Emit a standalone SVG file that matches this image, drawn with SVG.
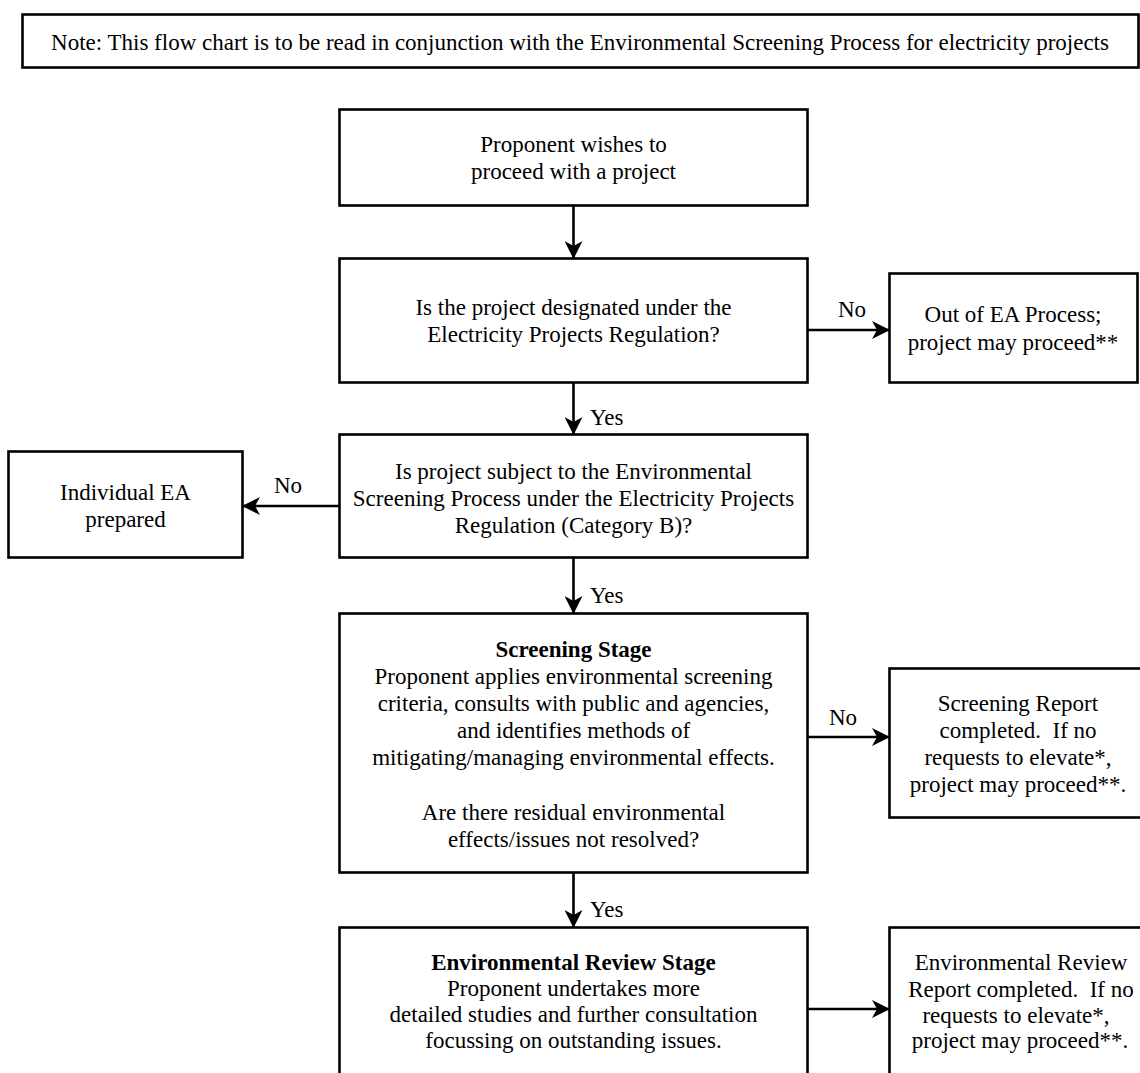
<svg xmlns="http://www.w3.org/2000/svg" width="1140" height="1073" viewBox="0 0 1140 1073">
<style>
.box{fill:#fff;stroke:#000;stroke-width:2.6}
.t{font-family:"Liberation Serif","Times New Roman",serif;font-size:23px;fill:#000;text-anchor:middle}
.b{font-weight:bold}
.lbl{font-family:"Liberation Serif","Times New Roman",serif;font-size:23px;fill:#000}
.edge{fill:none;stroke:#000;stroke-width:2.6}
</style>
<defs>
<marker id="arr" viewBox="0 0 18 18" refX="17" refY="9" markerWidth="18" markerHeight="18" markerUnits="userSpaceOnUse" orient="auto">
<path d="M0,0 L18,9 L0,18 L5,9 Z" fill="#000"/>
</marker>
</defs>
<rect width="1140" height="1073" fill="#fff"/>
<g id="note">
<rect class="box" x="22.5" y="14.5" width="1116" height="53"/>
<text class="t" x="580" y="50">Note: This flow chart is to be read in conjunction with the Environmental Screening Process for electricity projects</text>
</g>
<g id="start">
<rect class="box" x="339.5" y="109.5" width="468" height="96"/>
<text class="t" x="573.5" y="152">Proponent wishes to</text>
<text class="t" x="573.5" y="179">proceed with a project</text>
</g>
<g id="designated">
<rect class="box" x="339.5" y="258.5" width="468" height="124"/>
<text class="t" x="573.5" y="315">Is the project designated under the</text>
<text class="t" x="573.5" y="342">Electricity Projects Regulation?</text>
</g>
<g id="out">
<rect class="box" x="889.5" y="273.5" width="248" height="109"/>
<text class="t" x="1013" y="322">Out of EA Process;</text>
<text class="t" x="1013" y="350">project may proceed**</text>
</g>
<g id="subject">
<rect class="box" x="339.5" y="434.5" width="468" height="123"/>
<text class="t" x="573.5" y="479">Is project subject to the Environmental</text>
<text class="t" x="573.5" y="506">Screening Process under the Electricity Projects</text>
<text class="t" x="573.5" y="533">Regulation (Category B)?</text>
</g>
<g id="individual">
<rect class="box" x="8.5" y="451.5" width="234" height="106"/>
<text class="t" x="125.5" y="500">Individual EA</text>
<text class="t" x="125.5" y="527">prepared</text>
</g>
<g id="screening">
<rect class="box" x="339.5" y="613.5" width="468" height="259"/>
<text class="t b" x="573.5" y="657">Screening Stage</text>
<text class="t" x="573.5" y="684">Proponent applies environmental screening</text>
<text class="t" x="573.5" y="711">criteria, consults with public and agencies,</text>
<text class="t" x="573.5" y="738">and identifies methods of</text>
<text class="t" x="573.5" y="765">mitigating/managing environmental effects.</text>
<text class="t" x="573.5" y="820">Are there residual environmental</text>
<text class="t" x="573.5" y="847">effects/issues not resolved?</text>
</g>
<g id="screeningReport">
<rect class="box" x="889.5" y="668.5" width="260" height="149"/>
<text class="t" x="1018" y="711">Screening Report</text>
<text class="t" x="1018" y="738" xml:space="preserve">completed.  If no</text>
<text class="t" x="1018" y="765">requests to elevate*,</text>
<text class="t" x="1018" y="792">project may proceed**.</text>
</g>
<g id="review">
<rect class="box" x="339.5" y="927.5" width="468" height="160"/>
<text class="t b" x="573.5" y="970">Environmental Review Stage</text>
<text class="t" x="573.5" y="996">Proponent undertakes more</text>
<text class="t" x="573.5" y="1022">detailed studies and further consultation</text>
<text class="t" x="573.5" y="1048">focussing on outstanding issues.</text>
</g>
<g id="reviewReport">
<rect class="box" x="889.5" y="927.5" width="260" height="160"/>
<text class="t" x="1021" y="970">Environmental Review</text>
<text class="t" x="1021" y="997" xml:space="preserve">Report completed.  If no</text>
<text class="t" x="1016" y="1023">requests to elevate*,</text>
<text class="t" x="1020" y="1048">project may proceed**.</text>
</g>
<g id="connectors">
<line class="edge" x1="573.5" y1="206" x2="573.5" y2="258" marker-end="url(#arr)"/>
<line class="edge" x1="808" y1="330" x2="889" y2="330" marker-end="url(#arr)"/>
<text class="lbl" x="838" y="317">No</text>
<line class="edge" x1="573.5" y1="383" x2="573.5" y2="434" marker-end="url(#arr)"/>
<text class="lbl" x="590" y="425">Yes</text>
<line class="edge" x1="339" y1="506" x2="243" y2="506" marker-end="url(#arr)"/>
<text class="lbl" x="274" y="493">No</text>
<line class="edge" x1="573.5" y1="558" x2="573.5" y2="613" marker-end="url(#arr)"/>
<text class="lbl" x="590" y="603">Yes</text>
<line class="edge" x1="808" y1="737" x2="889" y2="737" marker-end="url(#arr)"/>
<text class="lbl" x="829" y="725">No</text>
<line class="edge" x1="573.5" y1="873" x2="573.5" y2="927" marker-end="url(#arr)"/>
<text class="lbl" x="590" y="917">Yes</text>
<line class="edge" x1="808" y1="1009" x2="889" y2="1009" marker-end="url(#arr)"/>
</g>
</svg>
